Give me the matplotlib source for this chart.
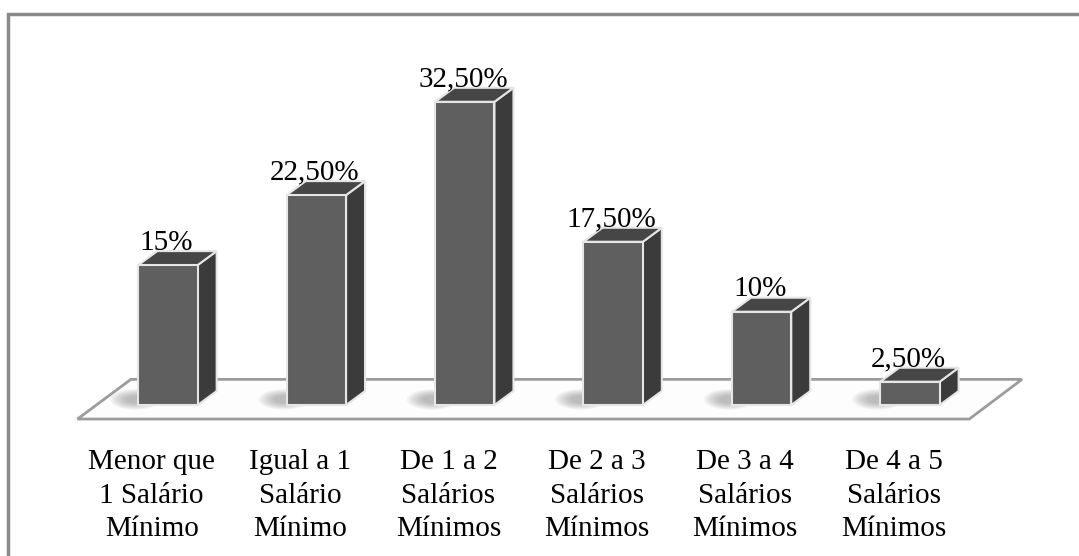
import matplotlib.pyplot as plt
from matplotlib.patches import Polygon, Ellipse, Rectangle

categories = ['Menor que\n1 Salário\nMínimo', 'Igual a 1\nSalário\nMínimo',
              'De 1 a 2\nSalários\nMínimos', 'De 2 a 3\nSalários\nMínimos',
              'De 3 a 4\nSalários\nMínimos', 'De 4 a 5\nSalários\nMínimos']
values = [15, 22.5, 32.5, 17.5, 10, 2.5]
value_labels = ['15%', '22,50%', '32,50%', '17,50%', '10%', '2,50%']

plt.rcParams['font.family'] = ['Liberation Serif', 'DejaVu Serif']

fig = plt.figure(figsize=(10.79, 5.56), dpi=100)
ax = fig.add_axes([0, 0, 1, 1])
ax.set_xlim(-1.132, 6.139)
ax.set_ylim(-16.18, 43.41)
ax.axis('off')

w = 0.4           # largura da face frontal
dx, dy = 0.128, 1.5   # profundidade 3D

# piso
floor = Polygon([(-0.61, -1.5), (5.40, -1.5), (5.755, 2.75), (-0.25, 2.75)],
                closed=True, facecolor='#fdfdfd', edgecolor='#9c9c9c', lw=2, zorder=1)
ax.add_patch(floor)

for i, (v, lab) in enumerate(zip(values, value_labels)):
    x0, x1 = i - w / 2, i + w / 2
    # sombra
    for k in range(8):
        ax.add_patch(Ellipse((x0 - 0.02, 0.6), 0.34 - k * 0.03, 2.2 - k * 0.2,
                             facecolor='#707070', alpha=0.07, lw=0, zorder=2))
    front = Polygon([(x0, 0), (x1, 0), (x1, v), (x0, v)], closed=True,
                    facecolor='#5f5f5f', edgecolor='#e6e6e6', lw=1.5, zorder=3)
    side = Polygon([(x1, 0), (x1 + dx, dy), (x1 + dx, v + dy), (x1, v)], closed=True,
                   facecolor='#3b3b3b', edgecolor='#e6e6e6', lw=1.5, zorder=3)
    top = Polygon([(x0, v), (x1, v), (x1 + dx, v + dy), (x0 + dx, v + dy)], closed=True,
                  facecolor='#464646', edgecolor='#e6e6e6', lw=1.5, zorder=3)
    for p in (side, top, front):
        ax.add_patch(p)
    ax.text(i - 0.01, v + dy + 0.15, lab, ha='center', va='baseline', fontsize=21, zorder=4)

for i, cat in enumerate(categories):
    ax.text(i - 0.11, -4.75, cat, ha='center', va='top', fontsize=21, linespacing=1.36)

# moldura
fig.add_artist(Rectangle((8 / 1079, -0.1), 1.2, 1.1 - 14 / 556, transform=fig.transFigure,
                         fill=False, edgecolor='#8a8a8a', lw=2.5))

fig.savefig('out.png', dpi=100)
